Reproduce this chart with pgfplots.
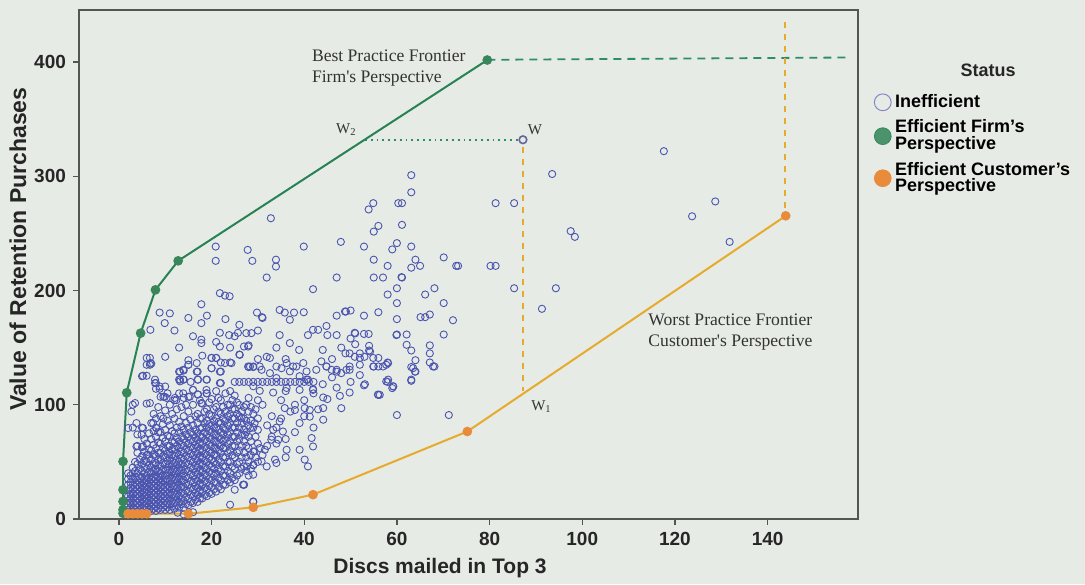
\documentclass[border=0pt]{standalone}
\usepackage{fontspec}
\setmainfont{Liberation Sans}
\newfontfamily\serifannot{Liberation Serif}
\usepackage{pgfplots}
\pgfplotsset{compat=1.18}
\definecolor{paper}{RGB}{231,235,229}
\definecolor{axisgray}{RGB}{85,85,85}
\definecolor{blueC}{RGB}{75,85,175}
\definecolor{greenL}{RGB}{40,130,85}
\definecolor{greenM}{RGB}{55,135,90}
\definecolor{orangeL}{RGB}{230,170,45}
\definecolor{orangeM}{RGB}{232,140,60}
\definecolor{greenD}{RGB}{45,140,110}
\begin{document}
\begin{tikzpicture}
\fill[paper] (-39.5pt,-32.5pt) rectangle (503pt,259.5pt);
\begin{axis}[
  at={(0pt,0pt)}, anchor=south west,
  scale only axis, width=389.5pt, height=254.5pt,
  xmin=-8.6, xmax=159.5, ymin=0, ymax=445.6,
  axis line style={axisgray, line width=0.7pt},
  tick style={axisgray, line width=0.7pt},
  tick align=outside, major tick length=3pt,
  xtick pos=bottom, ytick pos=left,
  xtick={0,20,40,60,80,100,120,140},
  ytick={0,100,200,300,400},
  /pgf/number format/assume math mode=true,
  tick label style={font=\fontsize{9.5}{11}\selectfont\bfseries, text=black!85},
  xlabel={Discs mailed in Top 3},
  ylabel={Value of Retention Purchases},
  xlabel style={font=\fontsize{10.5}{12}\selectfont\bfseries, text=black!85, at={(axis description cs:0.4634,-0.0963)}, anchor=center},
  ylabel style={font=\fontsize{11.5}{13}\selectfont\bfseries, text=black!85, at={(axis description cs:-0.0783,0.53)}, anchor=center},
  clip=false,
  legend style={at={(axis description cs:1.0205,0.843)}, anchor=north west,
    draw=none, fill=none, inner sep=0pt, row sep=0.8pt,
    font=\fontsize{9}{8.2}\selectfont\bfseries,
    cells={anchor=west, align=left}},
  legend image code/.code={\draw[#1] plot coordinates {(4pt,0pt)};},
]
% Inefficient (scatter)
\addplot[only marks, mark=o, mark size=1.8pt, draw=blueC, line width=0.45pt, forget plot] coordinates {
(2,8)(2,12)(2,16)(2,20)(2,25)(2,30)(2,35)(2,40)
(3,6)(3,10)(3,14)(3,18)(3,22)(3,26)(3,30)(3,35)(3,40)(3,45)(3,80)(3,100)
(4,6)(4,10)(4,14)(4,18)(4,22)(4,26)(4,30)(4,34)(4,40)(4,48)(4,58)(4,64)(4,74)
(5,6)(5,9)(5,13)(5,17)(5,21)(5,25)(5,29)(5,33)(5,37)(5,42)(5,48)(5,55)(5,63)(5,80)(5,125)
(6,6)(6,10)(6,14)(6,18)(6,22)(6,26)(6,30)(6,34)(6,38)(6,44)(6,50)(6,56)(6,66)(6,101)(6,135)(6,141)
(7,7)(7,11)(7,15)(7,19)(7,23)(7,27)(7,31)(7,35)(7,40)(7,45)(7,52)(7,60)(7,70)(7,84)(7,136)
(8,7)(8,11)(8,15)(8,19)(8,23)(8,27)(8,31)(8,35)(8,39)(8,44)(8,49)(8,55)(8,62)(8,72)(8,80)(8,88)(8,114)(8,119)
(9,8)(9,12)(9,16)(9,20)(9,24)(9,28)(9,32)(9,36)(9,40)(9,46)(9,52)(9,58)(9,66)(9,76)(9,90)(9,107)
(10,8)(10,12)(10,16)(10,20)(10,24)(10,28)(10,33)(10,38)(10,43)(10,48)(10,54)(10,60)(10,68)(10,78)(10,95)(10,116)
(11,8)(11,13)(11,18)(11,23)(11,28)(11,33)(11,38)(11,43)(11,48)(11,53)(11,58)(11,64)(11,72)(11,82)(11,100)
(12,9)(12,14)(12,19)(12,24)(12,29)(12,34)(12,39)(12,44)(12,49)(12,55)(12,61)(12,67)(12,75)(12,88)(12,104)
(13,10)(13,15)(13,20)(13,25)(13,30)(13,35)(13,40)(13,45)(13,50)(13,56)(13,62)(13,68)(13,76)(13,85)(13,110)(13,122)(13,129)
(14,10)(14,16)(14,22)(14,28)(14,34)(14,40)(14,46)(14,52)(14,58)(14,64)(14,70)(14,78)(14,90)(14,106)(14,122)(14,130)
(15,12)(15,18)(15,24)(15,30)(15,36)(15,42)(15,48)(15,54)(15,60)(15,66)(15,72)(15,80)(15,94)(15,107)(15,135)(15,139)
(16,14)(16,20)(16,26)(16,32)(16,38)(16,44)(16,50)(16,56)(16,62)(16,68)(16,74)(16,82)(16,100)(16,113)
(17,15)(17,21)(17,27)(17,33)(17,39)(17,45)(17,51)(17,57)(17,63)(17,69)(17,75)(17,84)(17,92)(17,109)(17,122)(17,129)
(18,18)(18,24)(18,30)(18,36)(18,42)(18,48)(18,54)(18,60)(18,66)(18,72)(18,80)(18,88)(18,101)
(19,20)(19,26)(19,32)(19,38)(19,44)(19,50)(19,56)(19,62)(19,68)(19,74)(19,80)(19,86)(19,96)(19,110)(19,122)
(20,22)(20,28)(20,34)(20,40)(20,46)(20,52)(20,58)(20,64)(20,70)(20,76)(20,82)(20,90)(20,105)(20,132)(20,141)
(21,24)(21,32)(21,40)(21,48)(21,56)(21,62)(21,68)(21,74)(21,80)(21,88)(21,98)(21,112)(21,141)
(22,26)(22,34)(22,42)(22,50)(22,58)(22,64)(22,70)(22,76)(22,84)(22,92)(22,104)(22,119)(22,129)(22,137)
(23,30)(23,38)(23,46)(23,54)(23,62)(23,70)(23,78)(23,86)(23,94)(23,110)
(24,32)(24,40)(24,50)(24,60)(24,68)(24,76)(24,84)(24,92)(24,100)(24,112)(24,137)
(25,34)(25,44)(25,54)(25,64)(25,72)(25,80)(25,88)(25,96)(25,108)
(26,40)(26,50)(26,60)(26,70)(26,80)(26,90)(26,100)(26,144)
(27,30)(27,46)(27,58)(27,68)(27,78)(27,88)(27,98)(27,151)
(28,38)(28,50)(28,62)(28,72)(28,82)(28,94)(28,106)(28,133)
(29,15)(29,47)(29,59)(29,80)(29,92)(29,133)
(30,50)(30,66)(30,88)(30,104)
(2.5,6)(2.5,10)(2.5,14)(2.5,18)(2.5,22)(2.5,27)(2.5,32)(2.5,38)
(3.5,8)(3.5,12)(3.5,16)(3.5,20)(3.5,24)(3.5,28)(3.5,32)(3.5,37)(3.5,42)(3.5,50)
(4.5,8)(4.5,12)(4.5,16)(4.5,20)(4.5,24)(4.5,28)(4.5,32)(4.5,36)(4.5,44)(4.5,52)
(5.5,8)(5.5,11)(5.5,15)(5.5,19)(5.5,23)(5.5,27)(5.5,31)(5.5,35)(5.5,40)(5.5,45)(5.5,51)(5.5,59)(5.5,70)
(6.5,8)(6.5,12)(6.5,16)(6.5,20)(6.5,24)(6.5,28)(6.5,32)(6.5,36)(6.5,41)(6.5,47)(6.5,53)(6.5,61)(6.5,75)
(7.5,9)(7.5,13)(7.5,17)(7.5,21)(7.5,25)(7.5,29)(7.5,33)(7.5,37)(7.5,42)(7.5,48)(7.5,56)(7.5,65)(7.5,77)(7.5,92)
(8.5,9)(8.5,13)(8.5,17)(8.5,21)(8.5,25)(8.5,29)(8.5,33)(8.5,37)(8.5,42)(8.5,47)(8.5,52)(8.5,58)(8.5,67)(8.5,76)(8.5,98)
(9.5,10)(9.5,14)(9.5,18)(9.5,22)(9.5,26)(9.5,30)(9.5,34)(9.5,38)(9.5,43)(9.5,49)(9.5,55)(9.5,62)(9.5,71)(9.5,83)
(10.5,10)(10.5,14)(10.5,18)(10.5,22)(10.5,26)(10.5,30)(10.5,35)(10.5,40)(10.5,45)(10.5,51)(10.5,57)(10.5,64)(10.5,73)(10.5,86)(10.5,110)
(11.5,11)(11.5,16)(11.5,21)(11.5,26)(11.5,31)(11.5,36)(11.5,41)(11.5,46)(11.5,51)(11.5,56)(11.5,61)(11.5,68)(11.5,77)(11.5,92)
(12.5,12)(12.5,17)(12.5,22)(12.5,27)(12.5,32)(12.5,37)(12.5,42)(12.5,47)(12.5,52)(12.5,58)(12.5,64)(12.5,71)(12.5,80)(12.5,96)
(13.5,13)(13.5,18)(13.5,23)(13.5,28)(13.5,33)(13.5,38)(13.5,43)(13.5,48)(13.5,53)(13.5,59)(13.5,65)(13.5,72)(13.5,81)(13.5,98)
(14.5,13)(14.5,19)(14.5,25)(14.5,31)(14.5,37)(14.5,43)(14.5,49)(14.5,55)(14.5,61)(14.5,67)(14.5,74)(14.5,84)(14.5,100)
(15.5,15)(15.5,21)(15.5,27)(15.5,33)(15.5,39)(15.5,45)(15.5,51)(15.5,57)(15.5,63)(15.5,69)(15.5,76)(15.5,87)(15.5,120)
(16.5,17)(16.5,23)(16.5,29)(16.5,35)(16.5,41)(16.5,47)(16.5,53)(16.5,59)(16.5,65)(16.5,71)(16.5,78)(16.5,90)
(17.5,18)(17.5,24)(17.5,30)(17.5,36)(17.5,42)(17.5,48)(17.5,54)(17.5,60)(17.5,66)(17.5,72)(17.5,79)(17.5,88)(17.5,104)
(18.5,21)(18.5,27)(18.5,33)(18.5,39)(18.5,45)(18.5,51)(18.5,57)(18.5,63)(18.5,69)(18.5,76)(18.5,84)(18.5,94)
(19.5,23)(19.5,29)(19.5,35)(19.5,41)(19.5,47)(19.5,53)(19.5,59)(19.5,65)(19.5,71)(19.5,77)(19.5,83)(19.5,92)(19.5,102)
(20.5,26)(20.5,32)(20.5,38)(20.5,44)(20.5,50)(20.5,56)(20.5,62)(20.5,68)(20.5,74)(20.5,80)(20.5,86)(20.5,96)
(21.5,28)(21.5,36)(21.5,44)(21.5,52)(21.5,60)(21.5,66)(21.5,72)(21.5,78)(21.5,85)(21.5,94)(21.5,106)
(22.5,30)(22.5,38)(22.5,46)(22.5,54)(22.5,62)(22.5,68)(22.5,74)(22.5,80)(22.5,88)(22.5,98)
(23.5,34)(23.5,42)(23.5,50)(23.5,58)(23.5,66)(23.5,74)(23.5,82)(23.5,90)(23.5,100)
(24.5,36)(24.5,46)(24.5,56)(24.5,64)(24.5,72)(24.5,80)(24.5,88)(24.5,96)(24.5,104)
(25.5,38)(25.5,48)(25.5,58)(25.5,68)(25.5,76)(25.5,84)(25.5,92)(25.5,102)
(26.5,44)(26.5,54)(26.5,64)(26.5,74)(26.5,84)(26.5,94)
(27.5,42)(27.5,54)(27.5,64)(27.5,76)(27.5,86)(27.5,100)
(28.5,44)(28.5,56)(28.5,68)(28.5,86)(28.5,98)
(29.5,54)(29.5,72)(29.5,96)
(25,120)(26,120)(27,120)(28,120)(29,120)(30,120)(31,120)(32,120)(33,120)(34,120)(35,120)(36,120)(37,120)(38,120)(39,120)(40,120)(41,120)(42,120)
(31,56)(32,64)(33,72)(34,80)(35,88)(36,70)(37,94)(38,100)(39,84)(40,104)(42,110)(43,96)(44,118)(46,124)(33,90)(31,100)(30,78)(32,82)(35,104)(36,112)(45,105)(47,115)(48,97)(50,120)(52,126)(34,66)(36,54)(38,76)(40,90)(42,80)(46,140)(48,150)(44,148)(50,158)
(36,140)(34,150)(30,140)(28,152)(25,160)(24,150)(26,170)(30,165)(31,176)(13,150)(12,165)(11,180)(10,142)(16,160)(18,143)(21,155)(23,175)(19,178)
(63.1,301)(63.1,286)(93.5,302)(54.9,276.5)(53.9,271)(60.3,276.5)(61.1,276.5)(81.3,276.5)(85.3,276.5)(56,256.6)(55,251.6)(61.1,257.5)(97.5,252)(98.4,247)
(39.9,238.5)(47.9,242.6)(52.9,238.5)(60,241.5)(59,236)(63.1,238.5)(55,227)(58,221.6)(64,227)(63.1,220)(65,221.6)(70.1,229)(73.2,221.6)(80.2,221.6)(81.3,221.6)
(47,211.4)(55,211.4)(57,211.4)(61.1,211.4)(41.9,201.2)(60,202)(58,196.5)(66.1,196.5)(68.1,202)(85.3,202)(94.3,202)(39.9,181)(60,189)(70.1,189)(91.3,184)
(47,178)(48.8,181.6)(50,182.5)(52.9,178)(56,181)(60,175)(65.1,176.7)(66.1,176.7)(67.1,179)(72.1,174)(70.1,161.5)(60,161.5)(62.1,161.5)(62.1,152.5)(63.1,147.5)
(67.1,152)(67.1,145)(64,139)(63.1,133)(64,129)(67.1,137)(68.1,133.5)(58,120)(59,114.6)(63.1,121)(52.9,117)(56,108.7)(60,91)(71.2,91)
(51,162.5)(52.9,162)(53.9,162)(54,151.6)(54,147.5)(52,141)(48.9,145)(49.8,145)(55,133.5)(57,133.5)(58,137)(51,153)(56,141)
(117.6,322)(128.7,278)(123.7,265)(131.8,242.6)
(32.8,263.3)(20.9,238.5)(20.9,226)(27.8,235.6)(28.8,226)(33.9,227)(33.9,221)(31.9,211.4)(21.8,197.7)(22.9,195.6)(23.9,195)(17.8,188)(8.8,180.7)(9.9,171.5)(6.8,165.6)
(15,176)(17.8,171.5)(29.8,180.7)(30.9,176.7)(34.7,183)(35.8,180.7)(36.9,174.4)(37.8,180.7)(49,181.6)(61,211.7)(72.8,221.6)
(17.8,154)(17.8,157)(21.8,151)(27.5,162.7)(28.6,162.7)(23.8,161)(25.7,163)(21.8,163)(34.7,161)(36.9,154)(38.9,148)(40.8,161)(41.9,165.6)(43,165.6)(44.8,169)(45,161)(47,161)(50.9,163)(59.9,161)
(6.7,141)(6.8,136.5)(6,125.4)(7.8,122)(8.8,116)(9.6,107)(10.3,106)(12.1,106)(13.2,129)(13.9,130.6)(15,135)(16.8,136.5)(16,113)(17.1,122)(13.2,122)(13.9,122)(18.9,122)(18.9,113)
(20,141)(21,141)(20,132)(22.9,136.5)(24.3,136.5)(26.1,143.7)(21.8,129)(21.8,119)(27.9,133.5)(29,133.5)(27.9,151)(31.9,142)(32.6,141)(30.8,130.6)(34,133.5)(35.1,132)
(36.2,136.5)(37.6,133.5)(39.8,136.5)(39,125)(40.8,122)(41.9,113)(39,113)
(43.7,138)(44.8,133.5)(45.9,130.6)(47,129)(48,127.7)(49.1,130.6)(49.8,133.5)(50.9,142)(52,145)(53,142)(54.2,146.6)(54.9,141)(56,133.5)(58.1,136.5)(58.1,122)(59.2,116)(63.9,129)(67.8,133.5)(56.3,108.7)
(5.2,125.4)(6.7,135)(7.8,119)(8.8,114)(9.9,107)(6.7,101.5)(3.5,101.5)(2.7,94)(3.8,84)(13.2,120.5)(16.8,129)(12.4,104)(13.9,110)(15.3,107)(17.1,109)(18.9,110)(17.8,101.5)
(9.6,88)(7.4,84)(8.1,79.6)(5.2,79.6)(2,79.6)(4.9,73.7)(5.2,63.5)(6.3,56.3)(3.8,63.5)
(27,30)(29,38.8)(27.6,46)(29,47.5)(30.8,50.4)(31.9,46)(33.7,52)(34,49)(36.2,60.6)(39,60.6)(40.1,52)(40.8,46)(41.6,70.9)(41.9,63.5)(24,12.5)(25,25.6)(26.8,30)(29,15.4)(12.7,5.5)(14,4)(16,6)
(44.1,86.9)(44.1,97.1)(41.2,95.4)(41.2,89.6)(40.1,97.1)(38,95.4)(35.8,97.1)(34.7,85.4)(33.3,78.1)(35.4,76.6)(32.9,69.4)(34.4,69.4)(30.4,62.1)(31.5,60.6)(29.3,59.2)(27.2,73.7)(28.3,79.5)(29.3,83.9)(26.5,88.3)
(28.3,133.5)(30.4,133.5)(32.6,127.7)(34,123.4)(36.9,129.2)(38.3,133.5)(40.5,129.2)(42.6,130.6)(44.8,133.5)(47,130.6)(49.8,130.6)(52,135)(54.9,133.5)(57.7,135)(63.5,132.1)
(63.1,122)(59.2,116.2)(57.7,120.5)(55.9,108.9)(53.1,118)(49.8,110.7)(47.7,107.8)(44.1,106.4)(41.9,113.7)(40.5,122)(36.2,114.7)(33.3,110.7)(30.4,112.2)(29,116.2)
};
% W point
\addplot[only marks, mark=o, mark size=1.9pt, draw=gray!80!blue, line width=0.8pt, forget plot] coordinates {(87.2,332)};
% guide lines
\addplot[greenD, dotted, line width=0.9pt, forget plot] coordinates {(53.1,332)(86.4,332)};
\addplot[orangeL, dashed, line width=0.9pt, forget plot] coordinates {(87.2,326)(87.2,112)};
\addplot[greenD, dashed, dash pattern=on 4pt off 3pt, line width=0.9pt, forget plot] coordinates {(79.5,402)(157,404)};
\addplot[orangeL, dashed, dash pattern=on 3pt off 3pt, line width=0.9pt, forget plot] coordinates {(143.7,435)(143.7,265.4)};
% best practice frontier
\addplot[greenL, line width=1pt, mark=*, mark size=1.9pt, mark options={fill=greenM, draw=greenM}, forget plot] coordinates {
(0.9,5)(0.9,8.1)(0.9,15.4)(0.9,25.6)(0.9,50.4)(1.7,110.5)(4.7,162.7)(7.9,200.6)(12.8,226)(79.5,401.8)};
% worst practice frontier
\addplot[orangeL, line width=1pt, mark=*, mark size=1.9pt, mark options={fill=orangeM, draw=orangeM}, forget plot] coordinates {
(2,4.6)(3,4.6)(4,4.6)(5,4.6)(6,4.6)(15,4.6)(29,10.2)(41.9,21.3)(75.2,76.6)(143.9,265.4)};
% annotations
\node[font=\serifannot\fontsize{8.8}{10.5}\selectfont, align=left, anchor=west, inner sep=0pt, text=black!80] at (axis cs:41.6,394.5) {Best Practice Frontier\\Firm's Perspective};
\node[font=\serifannot\fontsize{8.8}{10.5}\selectfont, align=left, anchor=west, inner sep=0pt, text=black!80] at (axis cs:114.2,164) {Worst Practice Frontier\\Customer's Perspective};
\node[font=\serifannot\fontsize{7.5}{9}\selectfont, inner sep=0pt, text=black!80] at (axis cs:49.1,341) {W\textsubscript{2}};
\node[font=\serifannot\fontsize{7.5}{9}\selectfont, inner sep=0pt, text=black!80] at (axis cs:89.8,341) {W};
\node[font=\serifannot\fontsize{7.5}{9}\selectfont, inner sep=0pt, text=black!80] at (axis cs:91.2,98.5) {W\textsubscript{1}};
\node[font=\fontsize{9}{10}\selectfont\bfseries, text=black!85] at (axis description cs:1.167,0.882) {Status};
% legend
\addlegendimage{only marks, mark=o, mark size=4.2pt, draw=blueC!70, line width=0.5pt}
\addlegendentry{Inefficient}
\addlegendimage{only marks, mark=*, mark size=4.2pt, draw=greenM, fill=greenM!90}
\addlegendentry{Efficient Firm's\\Perspective}
\addlegendimage{only marks, mark=*, mark size=4.2pt, draw=orangeM, fill=orangeM}
\addlegendentry{Efficient Customer's\\Perspective}
\end{axis}
\end{tikzpicture}
\end{document}
